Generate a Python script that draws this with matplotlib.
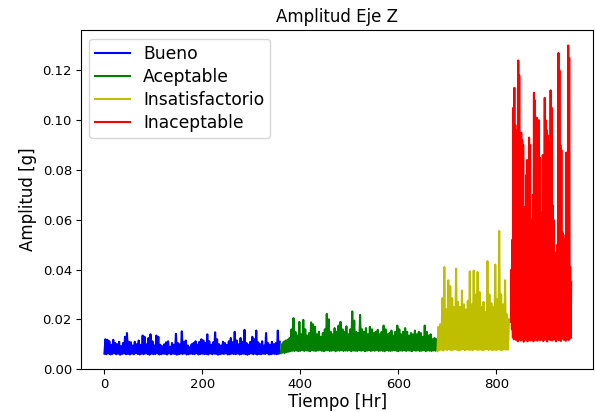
import matplotlib
matplotlib.use('Agg')
import matplotlib.pyplot as plt
import numpy as np

# start hour of each condition
bueno_start = 0
aceptable_start = 360
insat_start = 680
inacep_start = 830

# peaks and lows; bueno..insat every 4 hr, inacep every 2 hr
bueno_hi = [0.0120, 0.0118, 0.0112, 0.0098, 0.0118, 0.0105, 0.0100, 0.0110, 0.0092, 0.0105,
            0.0130, 0.0145, 0.0110, 0.0108, 0.0095, 0.0110, 0.0100, 0.0115, 0.0098, 0.0135,
            0.0130, 0.0100, 0.0125, 0.0140, 0.0112, 0.0095, 0.0135, 0.0130, 0.0098, 0.0092,
            0.0100, 0.0108, 0.0112, 0.0090, 0.0105, 0.0098, 0.0142, 0.0105, 0.0100, 0.0152,
            0.0108, 0.0115, 0.0095, 0.0088, 0.0100, 0.0105, 0.0112, 0.0098, 0.0110, 0.0120,
            0.0115, 0.0105, 0.0140, 0.0112, 0.0098, 0.0108, 0.0148, 0.0120, 0.0100, 0.0095,
            0.0110, 0.0105, 0.0098, 0.0112, 0.0125, 0.0108, 0.0150, 0.0115, 0.0100, 0.0125,
            0.0110, 0.0158, 0.0105, 0.0098, 0.0110, 0.0130, 0.0120, 0.0155, 0.0108, 0.0100,
            0.0112, 0.0095, 0.0145, 0.0105, 0.0098, 0.0110, 0.0100, 0.0105, 0.0155, 0.0110]
bueno_lo = [0.0062, 0.0060, 0.0063, 0.0059, 0.0061, 0.0064, 0.0060, 0.0062, 0.0058, 0.0061,
            0.0063, 0.0060, 0.0061, 0.0059, 0.0062, 0.0060, 0.0064, 0.0061, 0.0059, 0.0062,
            0.0060, 0.0063, 0.0061, 0.0058, 0.0062, 0.0060, 0.0061, 0.0063, 0.0059, 0.0060,
            0.0062, 0.0061, 0.0059, 0.0063, 0.0060, 0.0062, 0.0061, 0.0058, 0.0060, 0.0062,
            0.0061, 0.0063, 0.0059, 0.0060, 0.0062, 0.0061, 0.0060, 0.0064, 0.0059, 0.0061,
            0.0062, 0.0060, 0.0061, 0.0059, 0.0063, 0.0060, 0.0062, 0.0061, 0.0058, 0.0060,
            0.0062, 0.0061, 0.0063, 0.0059, 0.0060, 0.0062, 0.0061, 0.0060, 0.0063, 0.0059,
            0.0061, 0.0062, 0.0060, 0.0058, 0.0061, 0.0063, 0.0060, 0.0062, 0.0059, 0.0061,
            0.0060, 0.0062, 0.0061, 0.0063, 0.0059, 0.0060, 0.0062, 0.0061, 0.0060, 0.0062]

aceptable_hi = [0.0100, 0.0110, 0.0115, 0.0118, 0.0125, 0.0160, 0.0205, 0.0150, 0.0135, 0.0190,
                0.0140, 0.0198, 0.0160, 0.0135, 0.0145, 0.0188, 0.0180, 0.0170, 0.0140, 0.0150,
                0.0130, 0.0145, 0.0160, 0.0222, 0.0200, 0.0150, 0.0140, 0.0165, 0.0150, 0.0175,
                0.0190, 0.0160, 0.0150, 0.0172, 0.0140, 0.0160, 0.0232, 0.0195, 0.0150, 0.0145,
                0.0218, 0.0160, 0.0150, 0.0165, 0.0140, 0.0170, 0.0160, 0.0145, 0.0150, 0.0158,
                0.0140, 0.0150, 0.0175, 0.0160, 0.0140, 0.0145, 0.0155, 0.0135, 0.0150, 0.0175,
                0.0160, 0.0140, 0.0150, 0.0165, 0.0150, 0.0135, 0.0145, 0.0140, 0.0155, 0.0140,
                0.0150, 0.0145, 0.0130, 0.0175, 0.0150, 0.0135, 0.0140, 0.0120, 0.0125, 0.0120]
aceptable_lo = [0.0064, 0.0066, 0.0065, 0.0068, 0.0070, 0.0072, 0.0074, 0.0073, 0.0075, 0.0072,
                0.0074, 0.0076, 0.0073, 0.0075, 0.0074, 0.0072, 0.0076, 0.0074, 0.0073, 0.0075,
                0.0077, 0.0074, 0.0072, 0.0075, 0.0076, 0.0073, 0.0074, 0.0076, 0.0072, 0.0075,
                0.0074, 0.0077, 0.0073, 0.0075, 0.0074, 0.0076, 0.0072, 0.0075, 0.0074, 0.0073,
                0.0076, 0.0074, 0.0075, 0.0072, 0.0074, 0.0076, 0.0073, 0.0075, 0.0074, 0.0077,
                0.0073, 0.0075, 0.0074, 0.0072, 0.0076, 0.0074, 0.0073, 0.0075, 0.0076, 0.0074,
                0.0072, 0.0075, 0.0074, 0.0076, 0.0073, 0.0075, 0.0074, 0.0072, 0.0076, 0.0074,
                0.0075, 0.0073, 0.0074, 0.0076, 0.0072, 0.0075, 0.0074, 0.0073, 0.0075, 0.0074]

insat_hi = [0.0170, 0.0180, 0.0285, 0.0410, 0.0240, 0.0357, 0.0333, 0.0285, 0.0250, 0.0404,
            0.0270, 0.0250, 0.0316, 0.0260, 0.0240, 0.0275, 0.0393, 0.0260, 0.0396, 0.0300,
            0.0390, 0.0310, 0.0250, 0.0270, 0.0230, 0.0434, 0.0300, 0.0265, 0.0250, 0.0420,
            0.0280, 0.0555, 0.0300, 0.0260, 0.0357, 0.0220, 0.0200]
insat_lo = [0.0072, 0.0076, 0.0078, 0.0075, 0.0079, 0.0077, 0.0080, 0.0076, 0.0078, 0.0079,
            0.0077, 0.0075, 0.0078, 0.0080, 0.0076, 0.0079, 0.0077, 0.0078, 0.0076, 0.0080,
            0.0078, 0.0077, 0.0079, 0.0076, 0.0078, 0.0080, 0.0077, 0.0079, 0.0076, 0.0078,
            0.0077, 0.0079, 0.0078, 0.0076, 0.0080, 0.0078, 0.0079]

inacep_hi = [0.040, 0.052, 0.105, 0.113, 0.098, 0.096, 0.070, 0.124, 0.118, 0.094,
             0.095, 0.092, 0.090, 0.065, 0.064, 0.078, 0.084, 0.080, 0.093, 0.090,
             0.060, 0.049, 0.070, 0.111, 0.108, 0.095, 0.101, 0.098, 0.100, 0.085,
             0.063, 0.062, 0.086, 0.084, 0.109, 0.100, 0.096, 0.094, 0.091, 0.088,
             0.112, 0.105, 0.066, 0.060, 0.047, 0.046, 0.044, 0.050, 0.127, 0.120,
             0.090, 0.088, 0.055, 0.054, 0.052, 0.050, 0.087, 0.085, 0.130, 0.125,
             0.041, 0.035]
inacep_lo = [0.0190, 0.0160, 0.0128, 0.0120, 0.0132, 0.0118, 0.0125, 0.0112, 0.0128, 0.0120,
             0.0115, 0.0130, 0.0122, 0.0110, 0.0125, 0.0118, 0.0128, 0.0112, 0.0120, 0.0126,
             0.0115, 0.0122, 0.0130, 0.0112, 0.0125, 0.0118, 0.0128, 0.0114, 0.0122, 0.0126,
             0.0116, 0.0124, 0.0120, 0.0113, 0.0127, 0.0119, 0.0124, 0.0111, 0.0126, 0.0121,
             0.0117, 0.0129, 0.0115, 0.0123, 0.0119, 0.0127, 0.0112, 0.0125, 0.0120, 0.0116,
             0.0128, 0.0113, 0.0122, 0.0126, 0.0118, 0.0124, 0.0114, 0.0121, 0.0127, 0.0117,
             0.0123, 0.0125]


def serie(start, lo, hi, step):
    # alternate low / peak samples
    y = np.ravel(np.column_stack([lo, hi]))
    t = start + step * np.arange(len(y))
    return t, y


fig = plt.figure(figsize=(5.95, 4.12), dpi=100)
ax = fig.add_axes([0.136, 0.104, 0.861, 0.823])

for start, lo, hi, st, c, lab in [(bueno_start, bueno_lo, bueno_hi, 2, 'b', 'Bueno'),
                                  (aceptable_start, aceptable_lo, aceptable_hi, 2, 'g', 'Aceptable'),
                                  (insat_start, insat_lo, insat_hi, 2, 'y', 'Insatisfactorio'),
                                  (inacep_start, inacep_lo, inacep_hi, 1, 'r', 'Inaceptable')]:
    t, y = serie(start, lo, hi, st)
    ax.plot(t, y, color=c, label=lab, linewidth=1.5)

ax.set_xlim(-48, 998)
ax.set_ylim(0, 0.1362)
ax.set_xticks([0, 200, 400, 600, 800])
ax.set_yticks([0.00, 0.02, 0.04, 0.06, 0.08, 0.10, 0.12])
ax.yaxis.set_major_formatter(matplotlib.ticker.FormatStrFormatter('%.2f'))
ax.tick_params(labelsize=9.5, pad=3)
ax.set_title('Amplitud Eje Z', fontsize=12)
ax.set_xlabel('Tiempo [Hr]', fontsize=12, labelpad=1)
ax.set_ylabel('Amplitud [g]', fontsize=12)
ax.legend(loc='upper left', fontsize=12.3, labelspacing=0.3, borderpad=0.35)

fig.savefig('out.png', dpi=100)
